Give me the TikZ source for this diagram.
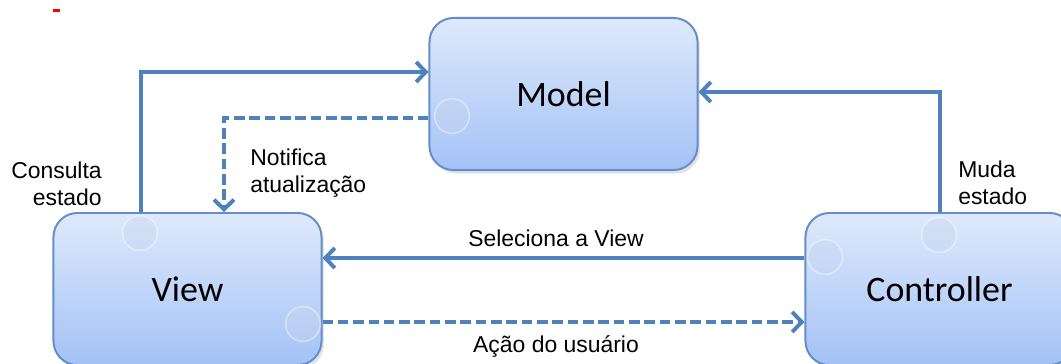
\documentclass[tikz,border=0pt]{standalone}
\usepackage{fontspec}
\setmainfont{Liberation Sans}
\newfontfamily\boxfont{Carlito}
\usepackage{tikz}
\usetikzlibrary{arrows.meta,positioning,shadows,calc}
\definecolor{linkblue}{RGB}{79,129,189}
\definecolor{boxtop}{RGB}{222,233,252}
\definecolor{boxbottom}{RGB}{164,194,246}
\definecolor{boxedge}{RGB}{100,142,200}
\definecolor{knobfill}{RGB}{198,213,238}

\begin{document}
\begin{tikzpicture}[x=0.025cm,y=-0.025cm,
		box/.style={draw=boxedge,line width=1.4pt,rounded corners=0.6cm,top color=boxtop,bottom color=boxbottom,minimum width=6.7cm,minimum height=3.8cm,font=\boxfont\fontsize{25.5}{28}\selectfont,drop shadow={shadow xshift=0.6mm,shadow yshift=-0.9mm,opacity=0.22}},
		link/.style={draw=linkblue,line width=2.9pt,-{Straight Barb[length=2.4mm,width=5mm,line width=2.8pt]}},
		notify/.style={link,dash pattern=on 7.5pt off 3.4pt},
		knob/.style={circle,minimum size=0.87cm,inner sep=0pt,fill=knobfill,draw=white,line width=1.2pt,opacity=0.4},
		lbl/.style={font=\fontsize{16.3}{19}\selectfont,inner sep=0pt}]
		\useasboundingbox (0,0) rectangle (1061,363);
		\clip (0,0) rectangle (1061,363);
		\fill[red] (53,9) rectangle (60,11.5);
		% the three blocks
		\node[box] (model) at (563.5,94) {Model};
		\node[box] (view) at (187.5,289) {View};
		\node[box] (controller) at (939.5,289) {Controller};
		% connection points
		\node[knob] (mknob) at (452,116) {};
		\node[knob] (vknob1) at (140,233) {};
		\node[knob] (vknob2) at (303,324) {};
		\node[knob] (cknob1) at (825,257) {};
		\node[knob] (cknob2) at (939,235) {};
		% connectors
		\draw[link] (view.north -| 141,0) |- (model.west |- 0,72);
		\draw[notify] (model.west |- 0,118) -| (view.north -| 224,0);
		\draw[link] (controller.north -| 940,0) |- (model.east |- 0,92);
		\draw[link] (controller.west |- 0,258) -- (view.east |- 0,258);
		\draw[notify] (view.east |- 0,322) -- (controller.west |- 0,322);
		% labels
		\node[lbl,align=right,anchor=north east] (consulta) at (102,162) {Consulta\\estado};
		\node[lbl,align=left,anchor=north west] (notifica) at (250,149) {Notifica\\atualização};
		\node[lbl,align=left,anchor=north west] (muda) at (958,161) {Muda\\estado};
		\node[lbl,anchor=base] (seleciona) at (556,246) {Seleciona a View};
		\node[lbl,anchor=base] (acao) at (556,352) {Ação do usuário};
\end{tikzpicture}
\end{document}
